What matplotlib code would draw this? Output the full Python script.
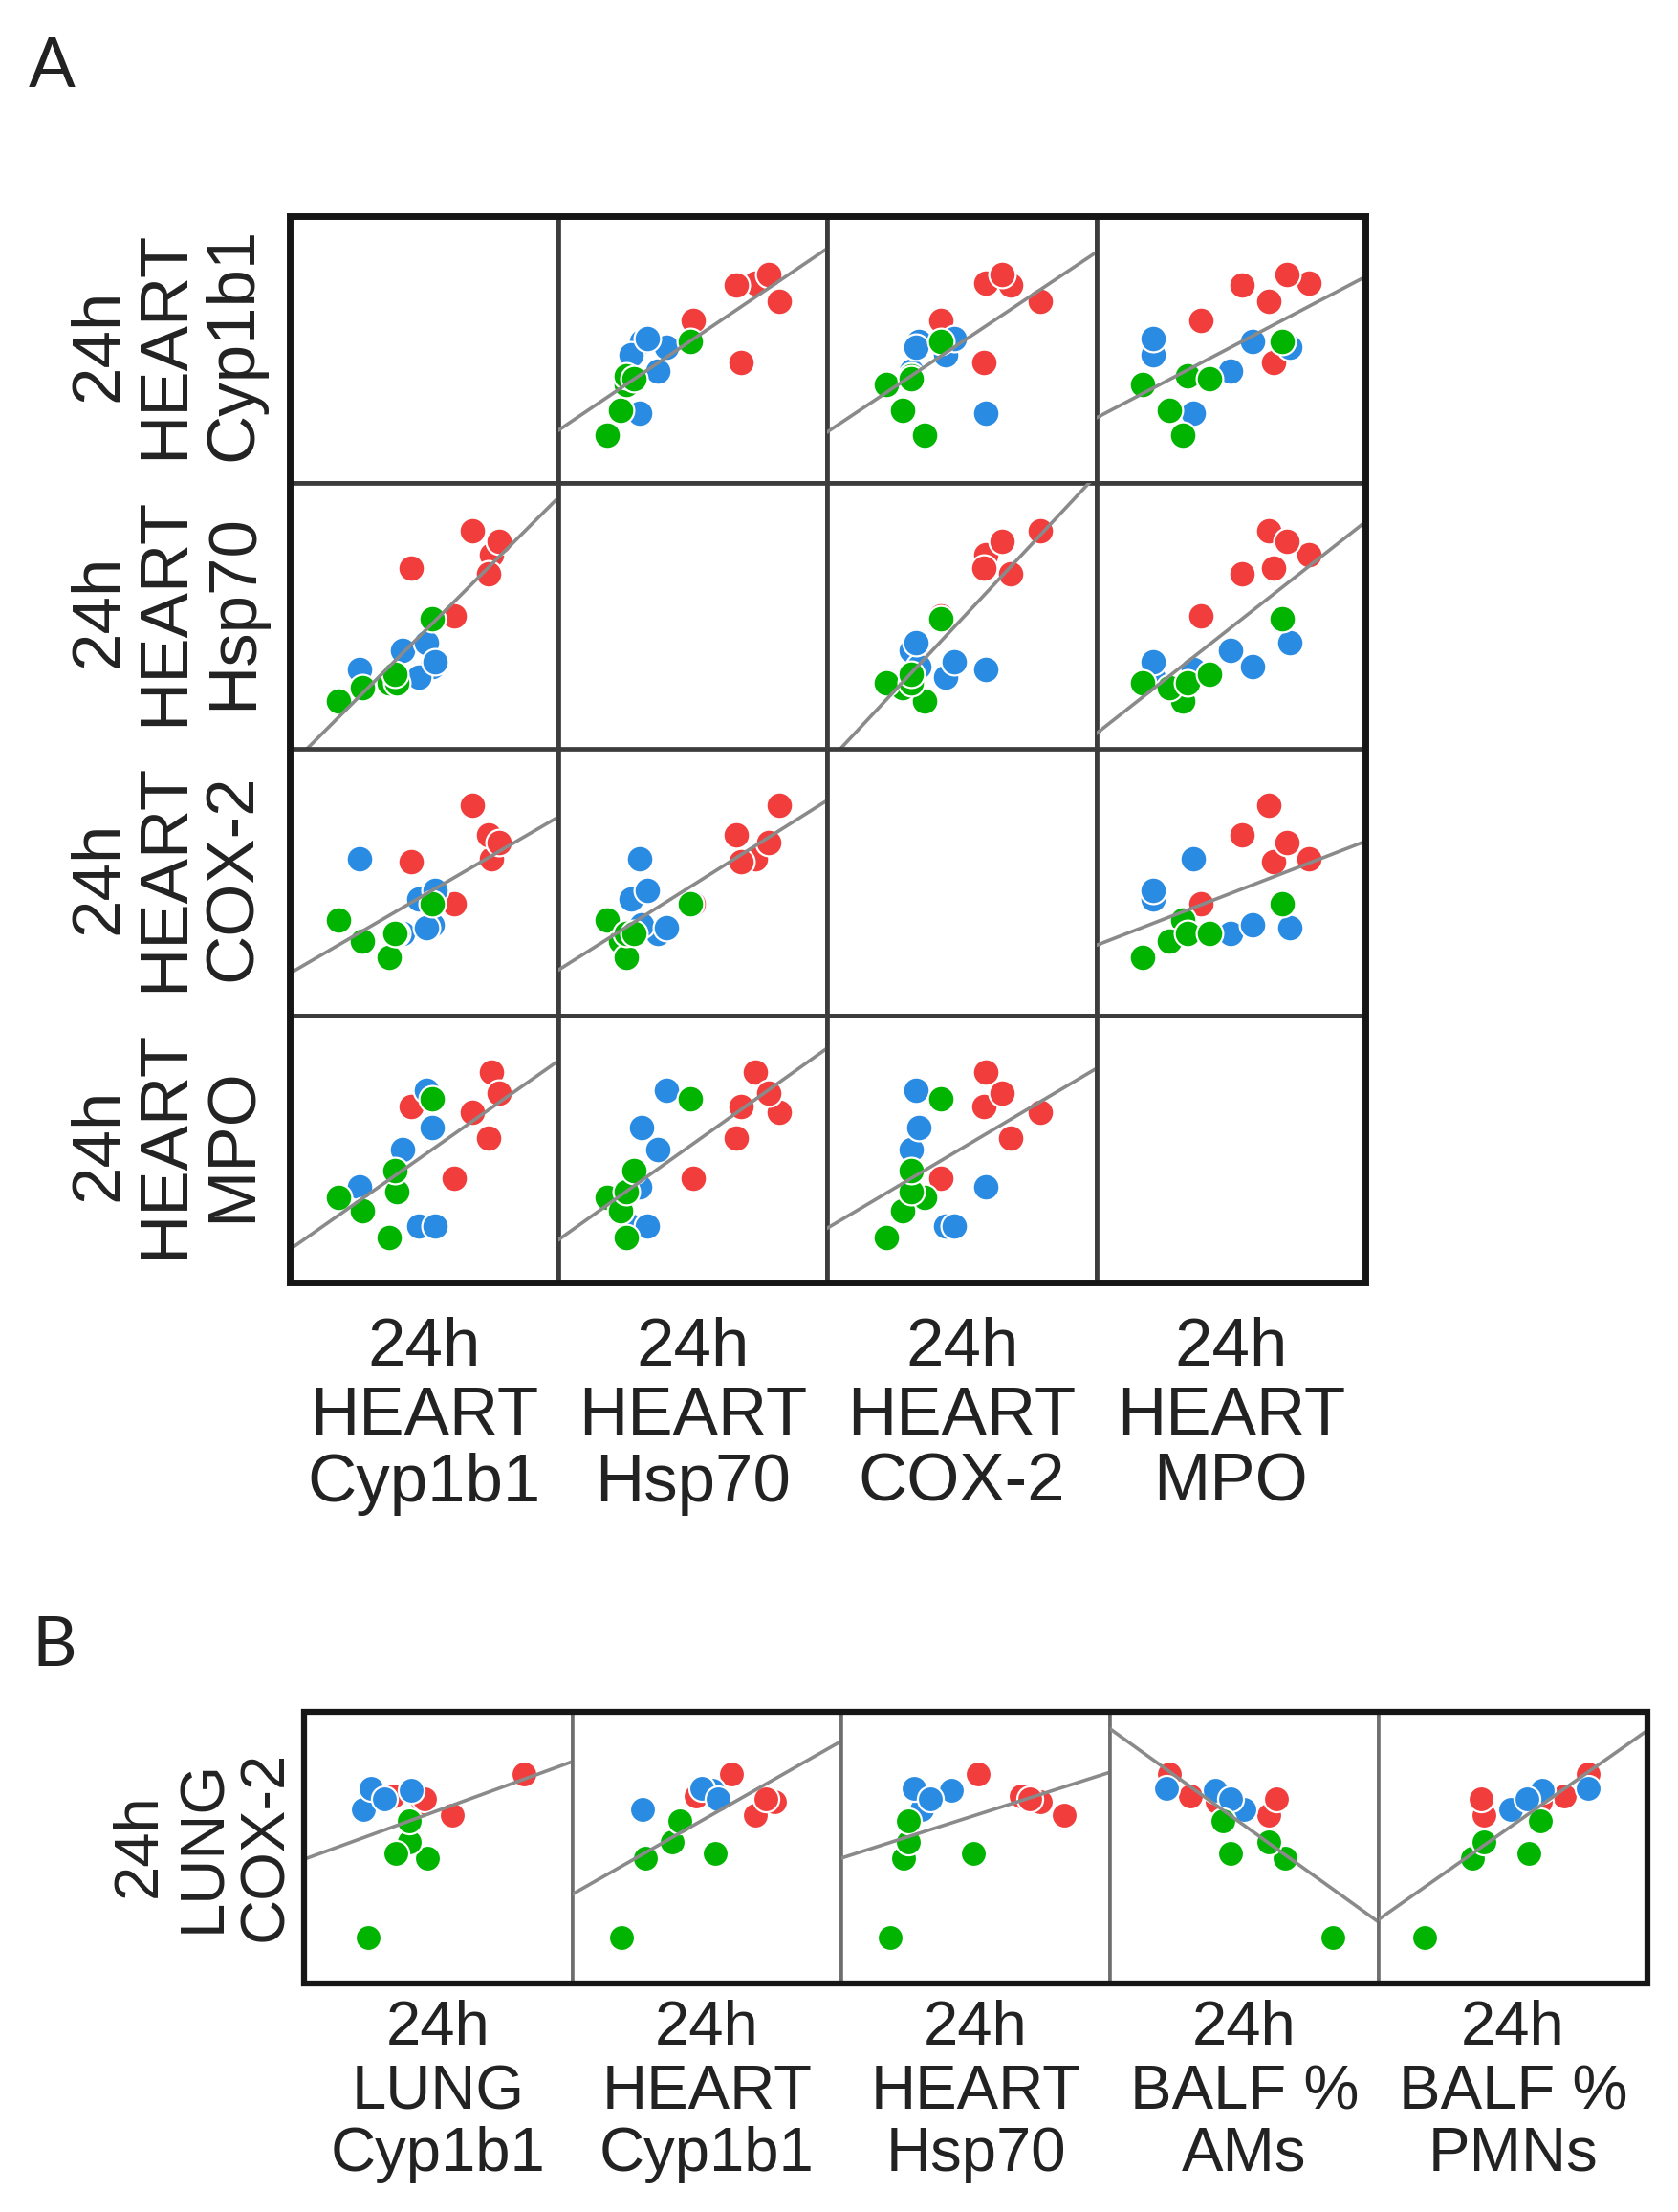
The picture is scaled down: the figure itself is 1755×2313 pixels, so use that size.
import numpy as np
import matplotlib.pyplot as plt
from matplotlib.patches import Rectangle

plt.rcParams['font.family'] = ['Liberation Sans', 'DejaVu Sans']

# panel A: 24h heart readouts, one value per animal, scaled to the cell range 0..1
group_a = ['red'] * 6 + ['blue'] * 6 + ['green'] * 6
heart_cyp1b1 = [0.75, 0.68, 0.61, 0.45, 0.74, 0.78,
                0.26, 0.42, 0.53, 0.51, 0.48, 0.54,
                0.18, 0.27, 0.37, 0.40, 0.39, 0.53]
heart_hsp70 = [0.73, 0.82, 0.50, 0.68, 0.66, 0.78,
               0.30, 0.37, 0.31, 0.40, 0.27, 0.33,
               0.18, 0.23, 0.25, 0.25, 0.28, 0.49]
heart_cox2 = [0.59, 0.79, 0.42, 0.58, 0.68, 0.65,
              0.59, 0.31, 0.34, 0.33, 0.44, 0.47,
              0.36, 0.28, 0.22, 0.31, 0.31, 0.42]
heart_mpo = [0.79, 0.64, 0.39, 0.66, 0.54, 0.71,
             0.36, 0.50, 0.58, 0.72, 0.21, 0.21,
             0.32, 0.27, 0.17, 0.34, 0.42, 0.69]
names_a = ['Cyp1b1', 'Hsp70', 'COX-2', 'MPO']

# panel B: lung COX-2 against lung / heart / BALF readouts
group_b = ['red'] * 5 + ['blue'] * 4 + ['green'] * 5
lung_cox2 = [0.77, 0.69, 0.67, 0.62, 0.68,
             0.64, 0.71, 0.72, 0.68,
             0.17, 0.46, 0.52, 0.60, 0.48]
lung_cyp1b1 = [0.82, 0.33, 0.44, 0.55, 0.45,
               0.22, 0.40, 0.25, 0.30,
               0.24, 0.46, 0.39, 0.39, 0.34]
heart_cyp1b1_b = [0.59, 0.46, 0.75, 0.68, 0.72,
                  0.26, 0.52, 0.48, 0.54,
                  0.18, 0.27, 0.37, 0.40, 0.53]
heart_hsp70_b = [0.51, 0.67, 0.74, 0.83, 0.70,
                 0.30, 0.41, 0.27, 0.33,
                 0.18, 0.23, 0.25, 0.25, 0.49]
balf_ams = [0.22, 0.30, 0.40, 0.59, 0.62,
            0.50, 0.39, 0.21, 0.45,
            0.83, 0.65, 0.59, 0.42, 0.45]
balf_pmns = [0.78, 0.69, 0.60, 0.39, 0.38,
             0.49, 0.61, 0.78, 0.55,
             0.17, 0.35, 0.39, 0.60, 0.56]
names_b = [('LUNG', 'Cyp1b1'), ('HEART', 'Cyp1b1'), ('HEART', 'Hsp70'),
           ('BALF %', 'AMs'), ('BALF %', 'PMNs')]

colors = {'red': '#F23D3D', 'blue': '#2A8BE3', 'green': '#00B400'}

W, H = 1756, 2313
fig = plt.figure(figsize=(W / 100, H / 100), dpi=100)


def add_cell(x0, y0, w, h, lw, col):
    ax = fig.add_axes([x0 / W, 1 - (y0 + h) / H, w / W, h / H])
    ax.set_xlim(0, 1)
    ax.set_ylim(0, 1)
    ax.set_xticks([])
    ax.set_yticks([])
    for s in ax.spines.values():
        s.set_linewidth(lw)
        s.set_color(col)
    return ax


def scatter_fit(ax, x, y, groups, size):
    x = np.asarray(x)
    y = np.asarray(y)
    g = np.asarray(groups)
    for name in ['red', 'blue', 'green']:
        m = g == name
        ax.scatter(x[m], y[m], s=size, c=colors[name], edgecolors='white',
                   linewidths=1.6, zorder=3)
    k, b = np.polyfit(x, y, 1)
    xs = np.array([0.0, 1.0])
    ax.plot(xs, k * xs + b, color='#8a8a8a', lw=2.6, zorder=4)


def text(x, y, s, size, **kw):
    fig.text(x / W, 1 - y / H, s, fontsize=size, color='#222222', **kw)


# ---- panel A ----
vars_a = [heart_cyp1b1, heart_hsp70, heart_cox2, heart_mpo]
ax0, ay0, aw, ah = 303, 226, 281.25, 278.75
for i in range(4):
    for j in range(4):
        ax = add_cell(ax0 + j * aw, ay0 + i * ah, aw, ah, 3.4, '#3c3c3c')
        if i != j:
            scatter_fit(ax, vars_a[j], vars_a[i], group_a, 400)
fig.add_artist(Rectangle((ax0 / W, 1 - (ay0 + 4 * ah) / H), 4 * aw / W, 4 * ah / H,
                         transform=fig.transFigure, fill=False, lw=5, ec='#161616'))

for j, nm in enumerate(names_a):
    cx = ax0 + (j + 0.5) * aw
    for line, yb in zip(['24h', 'HEART', nm], [1428, 1500, 1570]):
        text(cx, yb, line, 51, ha='center', va='baseline')
for i, nm in enumerate(names_a):
    cy = ay0 + (i + 0.5) * ah - 5
    for line, xb in zip(['24h', 'HEART', nm], [122, 191, 263]):
        text(xb, cy, line, 51, ha='center', va='baseline', rotation=90,
             rotation_mode='anchor')

# ---- panel B ----
vars_b = [lung_cyp1b1, heart_cyp1b1_b, heart_hsp70_b, balf_ams, balf_pmns]
bx0, by0, bw, bh = 318, 1790, 281, 284
for j in range(5):
    ax = add_cell(bx0 + j * bw, by0, bw, bh, 2.6, '#6e6e6e')
    scatter_fit(ax, vars_b[j], lung_cox2, group_b, 380)
fig.add_artist(Rectangle((bx0 / W, 1 - (by0 + bh) / H), 5 * bw / W, bh / H,
                         transform=fig.transFigure, fill=False, lw=4.5, ec='#161616'))

for j, (l1, l2) in enumerate(names_b):
    cx = bx0 + (j + 0.5) * bw
    for line, yb in zip(['24h', l1, l2], [2138, 2205, 2270]):
        text(cx, yb, line, 47, ha='center', va='baseline')
for line, xb in zip(['24h', 'LUNG', 'COX-2'], [163, 230, 295]):
    text(xb, 1930, line, 47, ha='center', va='baseline', rotation=90,
         rotation_mode='anchor')

# panel letters
text(30, 91, 'A', 52, ha='left', va='baseline', family=['Lato', 'DejaVu Sans'])
text(33, 1742, 'B', 52, ha='left', va='baseline', family=['Lato', 'DejaVu Sans'])

fig.savefig('out.png', dpi=100)
